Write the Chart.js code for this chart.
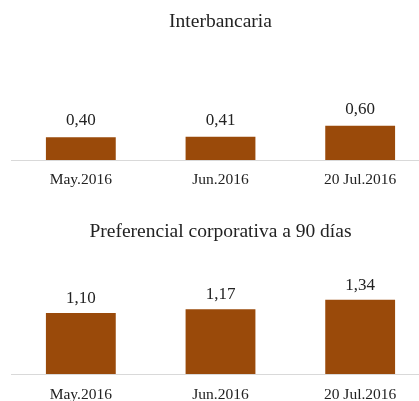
<!DOCTYPE html>
<html>
<head>
<meta charset="utf-8">
<script src="https://cdn.jsdelivr.net/npm/chart.js@4"></script>
<style>
html,body{margin:0;padding:0;overflow:hidden;background:#fff;width:419px;height:401px;}
canvas{display:block;}
</style>
</head>
<body>
<canvas id="c1" width="432" height="200"></canvas>
<canvas id="c2" width="432" height="201"></canvas>
<script>
const categories = ["May.2016", "Jun.2016", "20 Jul.2016"];
const interbancaria = [0.40, 0.41, 0.60];
const preferencial = [1.10, 1.17, 1.34];
const titles = ["Interbancaria", "Preferencial corporativa a 90 días"];

const FONT = "'Liberation Serif', 'Times New Roman', serif";
const TEXT = "#222222";
const BAR = "#9A4A0A";

const valueLabels = {
  id: 'valueLabels',
  afterDatasetsDraw(chart, args, opts) {
    const ctx = chart.ctx;
    ctx.save();
    ctx.font = "17px " + FONT;
    ctx.fillStyle = TEXT;
    ctx.textAlign = 'center';
    ctx.textBaseline = 'middle';
    chart.getDatasetMeta(0).data.forEach((bar, i) => {
      const v = chart.data.datasets[0].data[i];
      ctx.fillText(v.toFixed(2).replace('.', ','), bar.x, bar.y - opts.offset);
    });
    ctx.restore();
  }
};

function makeChart(id, title, values, cfg) {
  return new Chart(document.getElementById(id), {
    type: 'bar',
    data: {
      labels: categories,
      datasets: [{ data: values, backgroundColor: BAR, borderWidth: 0,
                   categoryPercentage: 1.0, barPercentage: 0.5 }]
    },
    plugins: [valueLabels],
    options: {
      responsive: false,
      animation: false,
      devicePixelRatio: 1,
      layout: { padding: { left: 11, right: 2, top: 0, bottom: 0 } },
      plugins: {
        legend: { display: false },
        tooltip: { enabled: false },
        title: {
          display: true, text: title, color: TEXT,
          font: { family: FONT, size: 19.5, weight: 'normal', lineHeight: 1.2 },
          padding: { top: cfg.titleTop, bottom: cfg.titleBottom }
        },
        valueLabels: { offset: cfg.labelOffset }
      },
      scales: {
        x: {
          grid: { display: false, drawTicks: false, tickLength: 0 },
          border: { display: true, color: '#D9D9D9', width: 1 },
          ticks: { color: TEXT, padding: cfg.tickPad,
                   font: { family: FONT, size: 15.5, lineHeight: 1 } },
          afterFit: (scale) => { scale.height = cfg.axisHeight; }
        },
        y: { display: false, min: 0, max: cfg.yMax }
      }
    }
  });
}

makeChart('c1', titles[0], interbancaria,
  { axisHeight: 40, titleTop: 10.5, titleBottom: 16.1, labelOffset: 16.5, tickPad: 11.8, yMax: 1.93 });
makeChart('c2', titles[1], preferencial,
  { axisHeight: 27, titleTop: 20, titleBottom: 26.6, labelOffset: 14.6, tickPad: 12.8, yMax: 1.877 });
</script>
</body>
</html>
